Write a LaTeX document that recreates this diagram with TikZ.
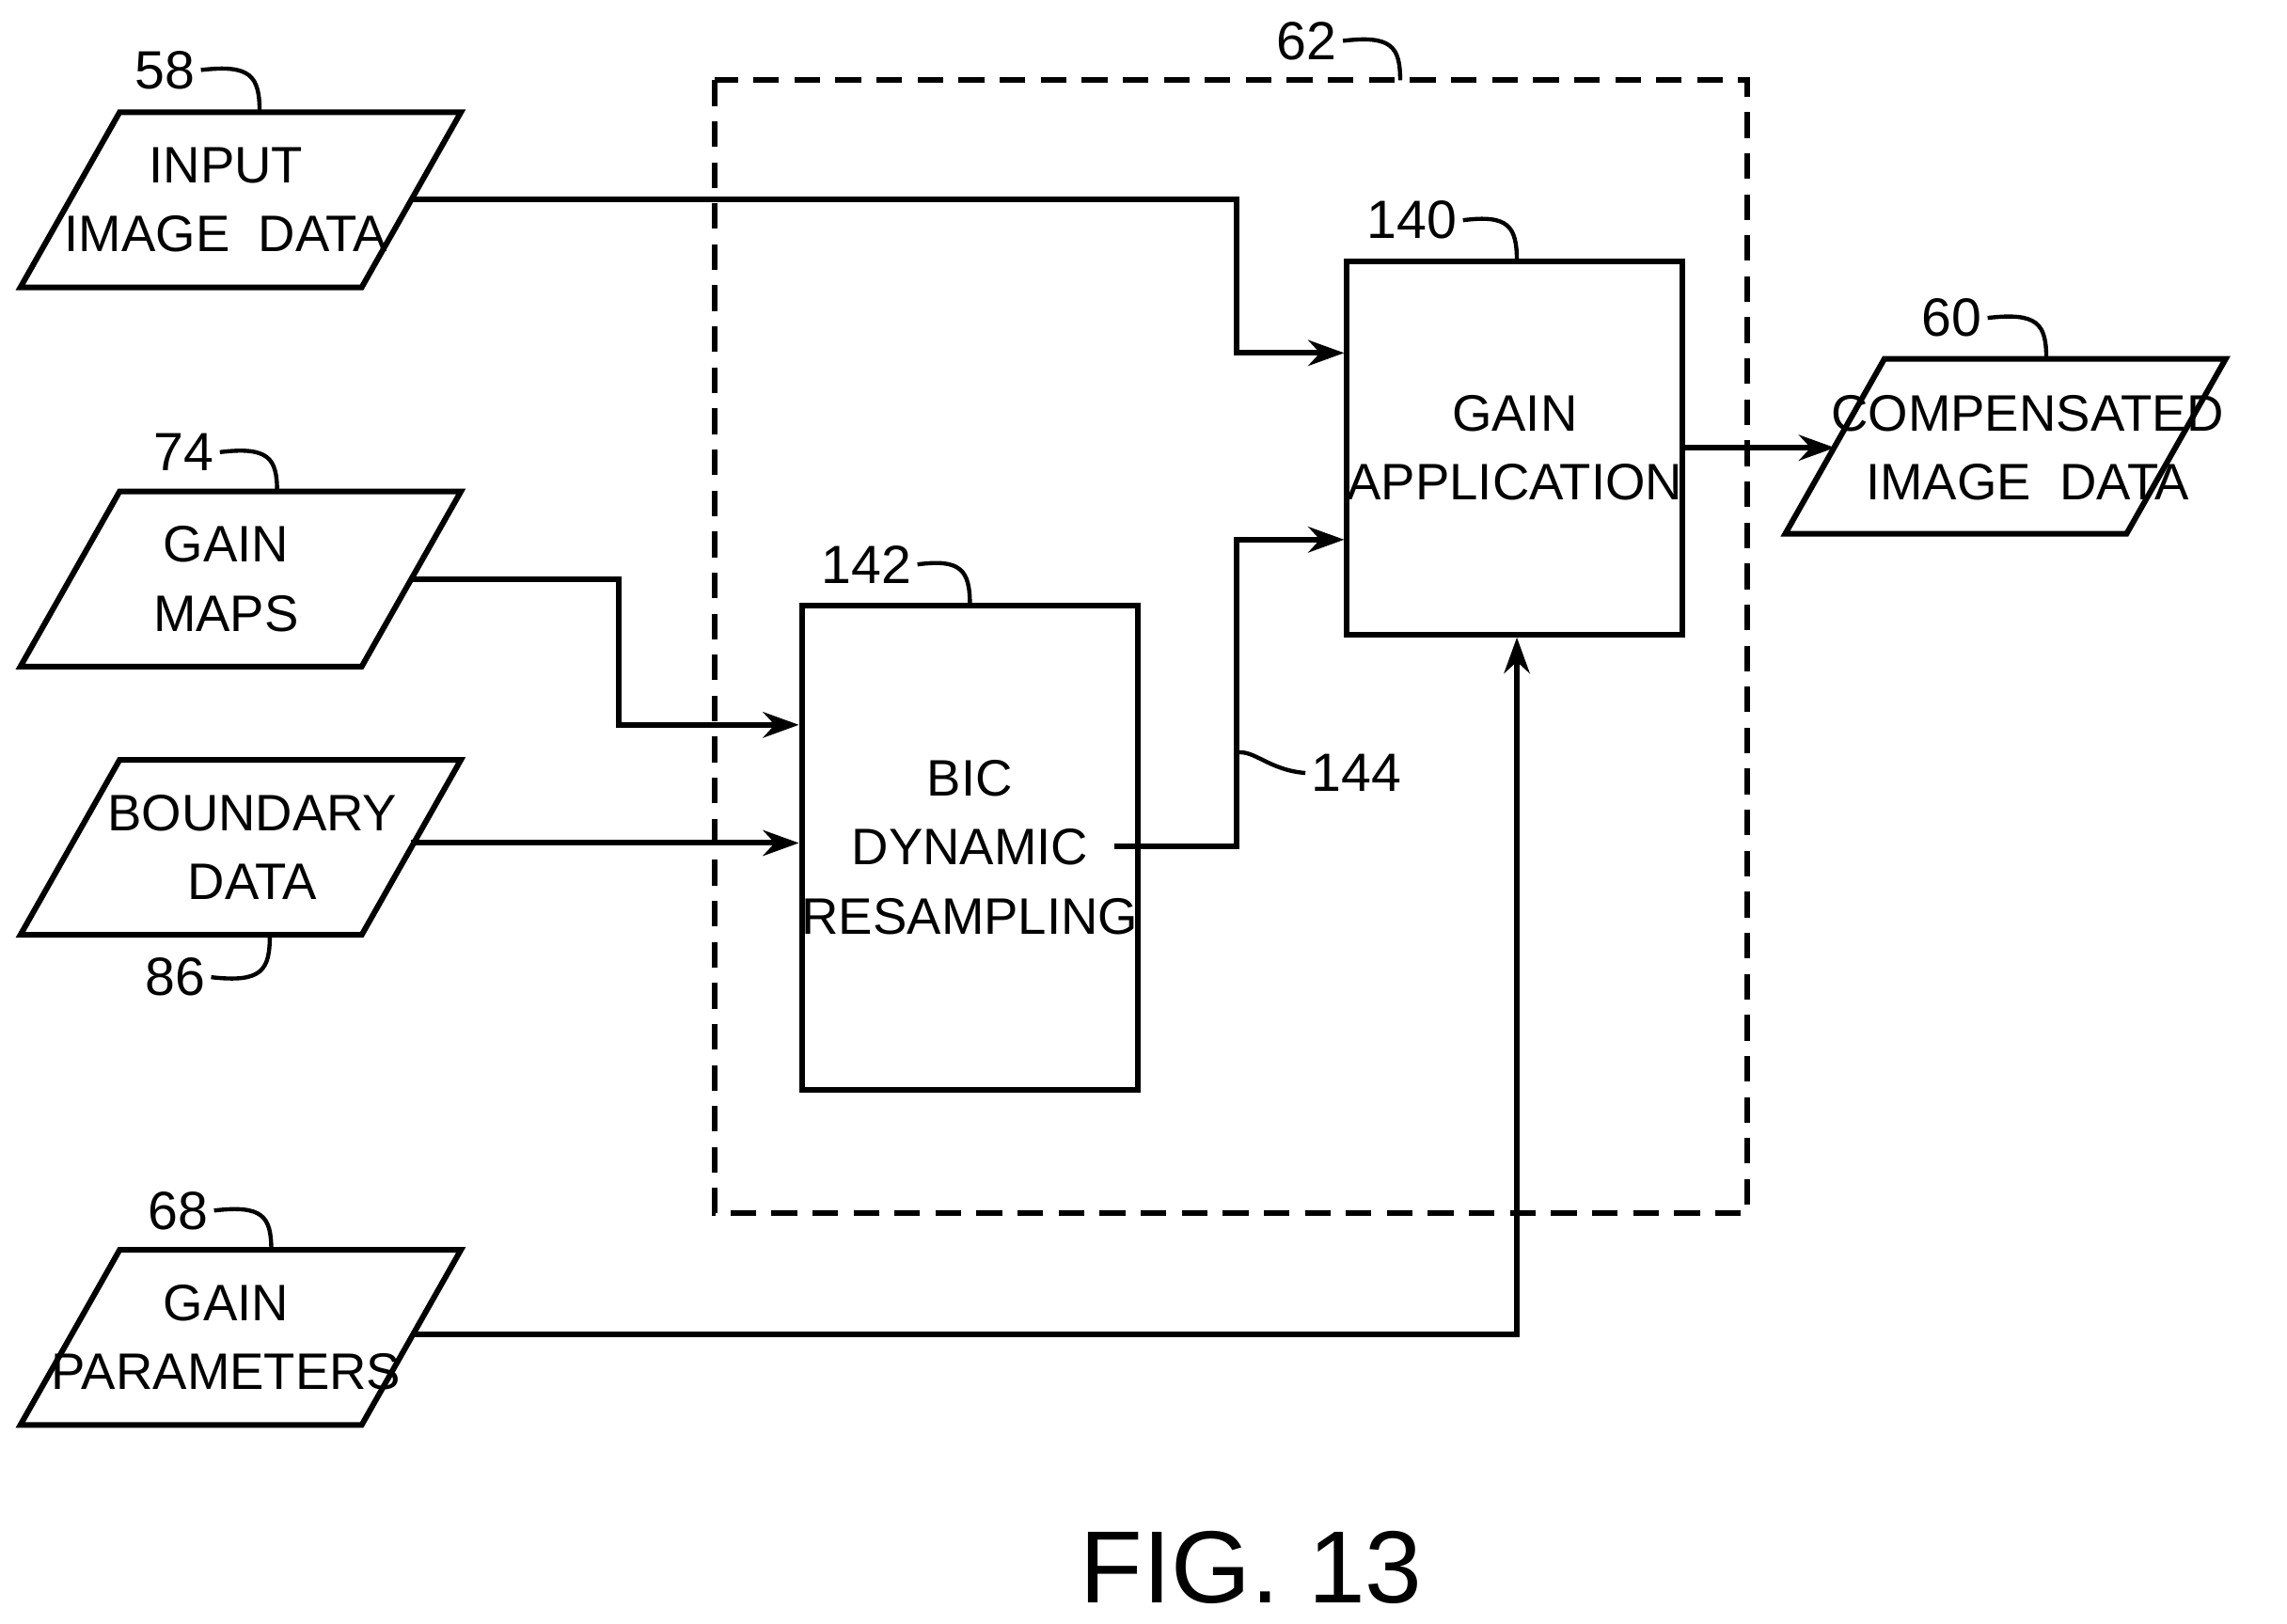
\documentclass[tikz,border=0pt]{standalone}
\usepackage{fontspec}
\setmainfont{Liberation Sans}
\usetikzlibrary{arrows.meta}
\begin{document}
\begin{tikzpicture}[x=0.01cm,y=-0.01cm,
  ln/.style={line width=1.1pt},
  box/.style={ln,draw},
  arr/.style={ln,-{Stealth[length=7pt,width=5pt]}},
  txt/.style={font=\fontsize{10}{13.5}\selectfont,align=center,inner sep=0pt},
  lbl/.style={font=\fontsize{10.5}{12}\selectfont,inner sep=1pt},
  lead/.style={line width=0.8pt}]
\useasboundingbox (0,0) rectangle (1568,1113);
% parallelograms
\newcommand{\para}[3]{\draw[ln] (82+#1,#2) -- (316+#1,#2) -- (248+#1,#2+120) -- (14+#1,#2+120) -- cycle;}
\para{0}{77}{} \para{0}{337}{} \para{0}{521}{} \para{0}{857}{} \para{1210}{246}{}
\node[txt] (in) at (155,137) {INPUT\\IMAGE\ \ DATA};
\node[txt] (gm) at (155,397) {GAIN\\MAPS};
\node[txt] (bd) at (173,581) {BOUNDARY\\DATA};
\node[txt] (gp) at (155,917) {GAIN\\PARAMETERS};
\node[txt] (cd) at (1390,307) {COMPENSATED\\IMAGE\ \ DATA};
\coordinate (inR) at (282,137);
\coordinate (gmR) at (282,397);
\coordinate (bdR) at (282,578);
\coordinate (gpR) at (282,915);
\coordinate (cdL) at (1258,307);
% dashed box
\draw[ln,dashed,dash pattern=on 5pt off 3pt] (490,55) rectangle (1198,832);
\node[box,minimum width=1.97cm,minimum height=2.56cm,txt] (ga) at (1038.5,307) {GAIN\\APPLICATION};
\node[box,minimum width=1.98cm,minimum height=3.32cm,txt] (bic) at (665,581) {BIC\\DYNAMIC\\RESAMPLING};
% connectors
\draw[arr] (inR) -- (848,137) -- (848,242) -- (ga.west |- 0,242);
\draw[arr] (gmR) -- (424,397) -- (424,497) -- (bic.west |- 0,497);
\draw[arr] (bdR) -- (bic.west |- bdR);
\draw[arr] (764,580) -- (848,580) -- (848,370) -- (ga.west |- 0,370);
\draw[arr] (ga.east |- cdL) -- (cdL);
\draw[arr] (gpR) -- (1040,915) -- (ga.south -| 1040,0);
% reference labels
\node[lbl] (l58) at (113,48) {58}; \draw[lead] (l58.east) .. controls (172,44) and (178,52) .. (178,77);
\node[lbl] (l74) at (126,310) {74}; \draw[lead] (l74.east) .. controls (184,306) and (190,314) .. (190,337);
\node[lbl] (l86) at (120,670) {86}; \draw[lead] (l86.east) .. controls (180,674) and (185,665) .. (185,641);
\node[lbl] (l68) at (122,830) {68}; \draw[lead] (l68.east) .. controls (180,826) and (186,834) .. (186,857);
\node[lbl] (l62) at (896,28) {62}; \draw[lead] (l62.east) .. controls (954,24) and (960,32) .. (960,55);
\node[lbl] (l140) at (968,151) {140}; \draw[lead] (l140.east) .. controls (1034,147) and (1040,155) .. (1040,179);
\node[lbl] (l142) at (594,387) {142}; \draw[lead] (l142.east) .. controls (659,383) and (665,391) .. (665,415);
\node[lbl] (l60) at (1338,218) {60}; \draw[lead] (l60.east) .. controls (1397,214) and (1403,222) .. (1403,246);
\node[lbl] (l144) at (930,530) {144}; \draw[lead] (l144.west) .. controls (870,528) and (860,514) .. (848,516);
\node[font=\fontsize{20}{24}\selectfont] (fig) at (858,1075) {FIG. 13};
\end{tikzpicture}
\end{document}
